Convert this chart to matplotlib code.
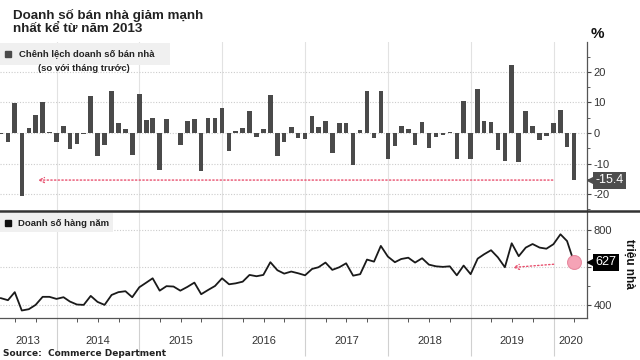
import matplotlib
matplotlib.use("Agg")
import matplotlib.pyplot as plt
import matplotlib.dates as mdates
import matplotlib.transforms as mtrans
from matplotlib.patches import Rectangle
from matplotlib.lines import Line2D
import pandas as pd
import numpy as np

plt.rcParams['font.family'] = ['Liberation Sans', 'DejaVu Sans']
plt.rcParams['axes.unicode_minus'] = False

# ---------------- data ----------------
start_month = "2013-04-01"
n_months = 84
mom_change = [-0.3, -2.9, 9.9, -20.6, 1.5, 5.9, 10.3, 0.4, -2.8, 2.3, -5.2, -3.6,
              -0.3, 12.2, -7.4, -3.8, 13.8, 3.2, 1.3, -7.3, 12.8, 4.3,
              5.0, -12.0, 4.5, -0.1, -4.0, 3.9, 4.5, -12.3, 5.0, 5.0, 8.1, -5.8,
              0.8, 1.5, 7.3, -1.4, 1.2, 12.5, -7.4, -3.0, 1.9,
              -1.5, -2.1, 5.5, 2.1, 3.9, -6.7, 3.2, 3.2, -10.6, 1.0, 13.9, -1.7,
              13.6, -8.4, -4.4, 2.4, 1.4, -3.9, 3.5, -5.0, -1.3,
              -0.5, 0.4, -8.4, 10.6, -8.4, 14.3, 3.9, 3.6, -5.4, -9.1, 22.3, -9.6,
              7.3, 2.4, -2.4, -1.1, 3.3, 7.7, -4.7, -15.4]
annual_sales = [436, 425, 468, 370, 377, 400, 443, 443, 432, 441, 418, 402,
                400, 448, 416, 400, 453, 468, 473, 441, 494, 519, 542, 476,
                500, 498, 476, 496, 519, 457, 480, 501, 542, 510, 515, 524,
                560, 553, 560, 628, 585, 567, 578, 569,
                558, 592, 601, 626, 587, 601, 622, 556, 564, 642, 631, 715,
                658, 628, 645, 652, 626, 649, 615, 606, 603, 606, 558, 610,
                564, 647, 670, 692, 654, 601, 729, 660, 706, 725, 706, 700,
                724, 777, 741, 627]
year_labels = ["2013", "2014", "2015", "2016", "2017", "2018", "2019", "2020"]
top_yticks = [-20, -10, 0, 10, 20]
bottom_yticks = [400, 600, 800]
bottom_yticklabels = ["400", "", "800"]   # 600 is hidden behind the value tag
last_change_label = "-15.4"
last_sales_label = "627"
title_lines = ["Doanh số bán nhà giảm mạnh", "nhất kể từ năm 2013"]
legend_top = ["Chênh lệch doanh số bán nhà", "(so với tháng trước)"]
legend_bottom = "Doanh số hàng năm"
source = "Source:  Commerce Department"

dates = pd.date_range(start_month, periods=n_months, freq="MS") + pd.offsets.MonthEnd(0)
x = mdates.date2num(dates.to_pydatetime())

xlim = (mdates.date2num(pd.Timestamp("2013-04-26")), mdates.date2num(pd.Timestamp("2020-05-27")))

# ---------------- figure ----------------
fig = plt.figure(figsize=(6.4, 3.6), dpi=100)
W, H = 640, 360
ax1 = fig.add_axes([0, 1 - 210 / H, 587 / W, 168 / H])
ax2 = fig.add_axes([0, 1 - 318 / H, 587 / W, 106 / H])

bar_col = "#4a4a4a"
pink = "#e8506e"
tick_col = "#333333"

# ---- top panel ----
ax1.bar(x, mom_change, width=20, color=bar_col, zorder=3)
ax1.set_xlim(*xlim)
ax1.set_ylim(-25.2, 29.8)
ax1.yaxis.tick_right()
ax1.set_yticks(top_yticks)
ax1.set_yticklabels([str(v) for v in top_yticks])
ax1.set_yticks([-25, -15, -5, 5, 15, 25], minor=True)
ax1.tick_params(axis='y', which='major', direction='out', length=3, width=0.8,
                colors='#444444', labelcolor=tick_col, labelsize=8, pad=1.5)
ax1.tick_params(axis='y', which='minor', direction='out', length=2, width=0.6, colors='#444444')
ax1.xaxis.set_major_locator(mdates.YearLocator())
ax1.tick_params(axis='x', which='both', bottom=False, labelbottom=False)
ax1.grid(axis='x', color='#e2e2e2', lw=0.8, ls='-', zorder=0)
ax1.grid(axis='y', color='#cccccc', lw=0.8, ls=(0, (1, 1.5)), zorder=0)
for s in ['top', 'left', 'bottom']:
    ax1.spines[s].set_visible(False)
ax1.spines['right'].set_color('#555555')
ax1.spines['right'].set_linewidth(0.9)

# legend box top
ax1.add_patch(Rectangle((0, 0.863), 0.2896, 0.131, transform=ax1.transAxes,
                        fc='#f0f0f0', ec='none', zorder=4))
ax1.plot([0.0136], [0.9286], marker='s', ms=4.5, color=bar_col, transform=ax1.transAxes,
         zorder=5, clip_on=False)
ax1.text(0.0324, 0.9286, legend_top[0], transform=ax1.transAxes, ha='left', va='center',
         fontsize=6.8, fontweight='bold', color='#222222', zorder=5)
ax1.text(0.143, 0.842, legend_top[1], transform=ax1.transAxes, ha='center', va='center',
         fontsize=6.8, fontweight='bold', color='#222222', zorder=5)

# pink dotted arrow in top panel
ax1.annotate("", xy=(mdates.date2num(pd.Timestamp("2013-10-10")), mom_change[-1]),
             xytext=(mdates.date2num(pd.Timestamp("2019-12-28")), mom_change[-1]),
             arrowprops=dict(arrowstyle='->', color=pink, lw=1.0, ls=':',
                             shrinkA=0, shrinkB=0, mutation_scale=9), zorder=6)

# value label -15.4
bt1 = mtrans.blended_transform_factory(ax1.transAxes, ax1.transData)
ax1.plot([1.0085], [mom_change[-1]], marker='<', ms=7, color='#4d4d4d', transform=bt1,
         clip_on=False, zorder=9)
ax1.text(1.0145, mom_change[-1], last_change_label, transform=bt1, ha='left', va='center',
         fontsize=9, color='white', zorder=10, clip_on=False,
         bbox=dict(boxstyle='square,pad=0.2', fc='#4d4d4d', ec='none'))

# ---- bottom panel ----
ax2.plot(x, annual_sales, color='#1a1a1a', lw=1.3, zorder=4)
ax2.plot([x[-1]], [annual_sales[-1]], marker='o', ms=10, color='#f5a3b6',
         mec='#e78aa0', mew=0.8, zorder=5)
ax2.set_xlim(*xlim)
ax2.set_ylim(330, 896)
ax2.yaxis.tick_right()
ax2.set_yticks(bottom_yticks)
ax2.set_yticklabels(bottom_yticklabels)
ax2.set_yticks([500, 700], minor=True)
ax2.tick_params(axis='y', which='major', direction='out', length=3, width=0.8,
                colors='#444444', labelcolor=tick_col, labelsize=8, pad=1.5)
ax2.tick_params(axis='y', which='minor', direction='out', length=2, width=0.6, colors='#444444')
ax2.xaxis.set_major_locator(mdates.YearLocator())
ax2.xaxis.set_minor_locator(mdates.MonthLocator(bymonth=[4, 7, 10]))
ax2.tick_params(axis='x', which='major', direction='out', length=27, width=0.8,
                color='#d0d0d0', labelbottom=False)
ax2.tick_params(axis='x', which='minor', direction='out', length=3, width=0.7,
                color='#555555')
ax2.grid(axis='x', color='#e2e2e2', lw=0.8, ls='-', zorder=0)
ax2.grid(axis='y', color='#cccccc', lw=0.8, ls=(0, (1, 1.5)), zorder=0)
for s in ['top', 'left']:
    ax2.spines[s].set_visible(False)
for s in ['right', 'bottom']:
    ax2.spines[s].set_color('#555555')
    ax2.spines[s].set_linewidth(0.9)

# year labels centred on visible part of each year
bt2x = mtrans.blended_transform_factory(ax2.transData, ax2.transAxes)
for lab in year_labels:
    y0 = max(mdates.date2num(pd.Timestamp(f"{lab}-01-01")), xlim[0])
    y1 = min(mdates.date2num(pd.Timestamp(f"{int(lab)+1}-01-01")), xlim[1])
    ax2.text((y0 + y1) / 2, -0.22, lab, transform=bt2x, ha='center', va='center',
             fontsize=8, color=tick_col, clip_on=False)

# legend box bottom
ax2.add_patch(Rectangle((0, 0.811), 0.1925, 0.18, transform=ax2.transAxes,
                        fc='#f0f0f0', ec='none', zorder=4))
ax2.plot([0.0136], [0.896], marker='s', ms=4.5, color='#111111', transform=ax2.transAxes,
         zorder=5, clip_on=False)
ax2.text(0.031, 0.896, legend_bottom, transform=ax2.transAxes, ha='left', va='center',
         fontsize=6.8, fontweight='bold', color='#222222', zorder=5)

# pink arrow bottom panel
ax2.annotate("", xy=(mdates.date2num(pd.Timestamp("2019-07-05")), 600),
             xytext=(mdates.date2num(pd.Timestamp("2020-01-01")), 617),
             arrowprops=dict(arrowstyle='->', color=pink, lw=1.0, ls=':',
                             shrinkA=0, shrinkB=0, mutation_scale=9), zorder=6)

bt2 = mtrans.blended_transform_factory(ax2.transAxes, ax2.transData)
ax2.plot([1.0085], [annual_sales[-1]], marker='<', ms=7, color='#000000', transform=bt2,
         clip_on=False, zorder=9)
ax2.text(1.0145, annual_sales[-1], last_sales_label, transform=bt2, ha='left', va='center',
         fontsize=9, color='white', zorder=10, clip_on=False,
         bbox=dict(boxstyle='square,pad=0.2', fc='#000000', ec='none'))
fig.text(629 / W, 1 - 264 / H, "triệu nhà", rotation=270, ha='center', va='center',
         fontsize=8.5, fontweight='bold', color='#111111')

# separator
fig.add_artist(Line2D([0, 1], [1 - 211 / H, 1 - 211 / H], transform=fig.transFigure,
                      color='#333333', lw=1.8))

# titles and texts
fig.text(13 / W, 1 - 15 / H, title_lines[0], ha='left', va='center', fontsize=9.6,
         fontweight='bold', color='#222222')
fig.text(13 / W, 1 - 29 / H, title_lines[1], ha='left', va='center', fontsize=9.6,
         fontweight='bold', color='#222222')
fig.text(597 / W, 1 - 34 / H, "%", ha='center', va='center', fontsize=11,
         fontweight='bold', color='#111111')
fig.text(3 / W, 1 - 353 / H, source, ha='left', va='center', fontsize=6.5,
         fontweight='bold', color='#222222', family=['DejaVu Sans'])

fig.savefig("out.png", dpi=100)
